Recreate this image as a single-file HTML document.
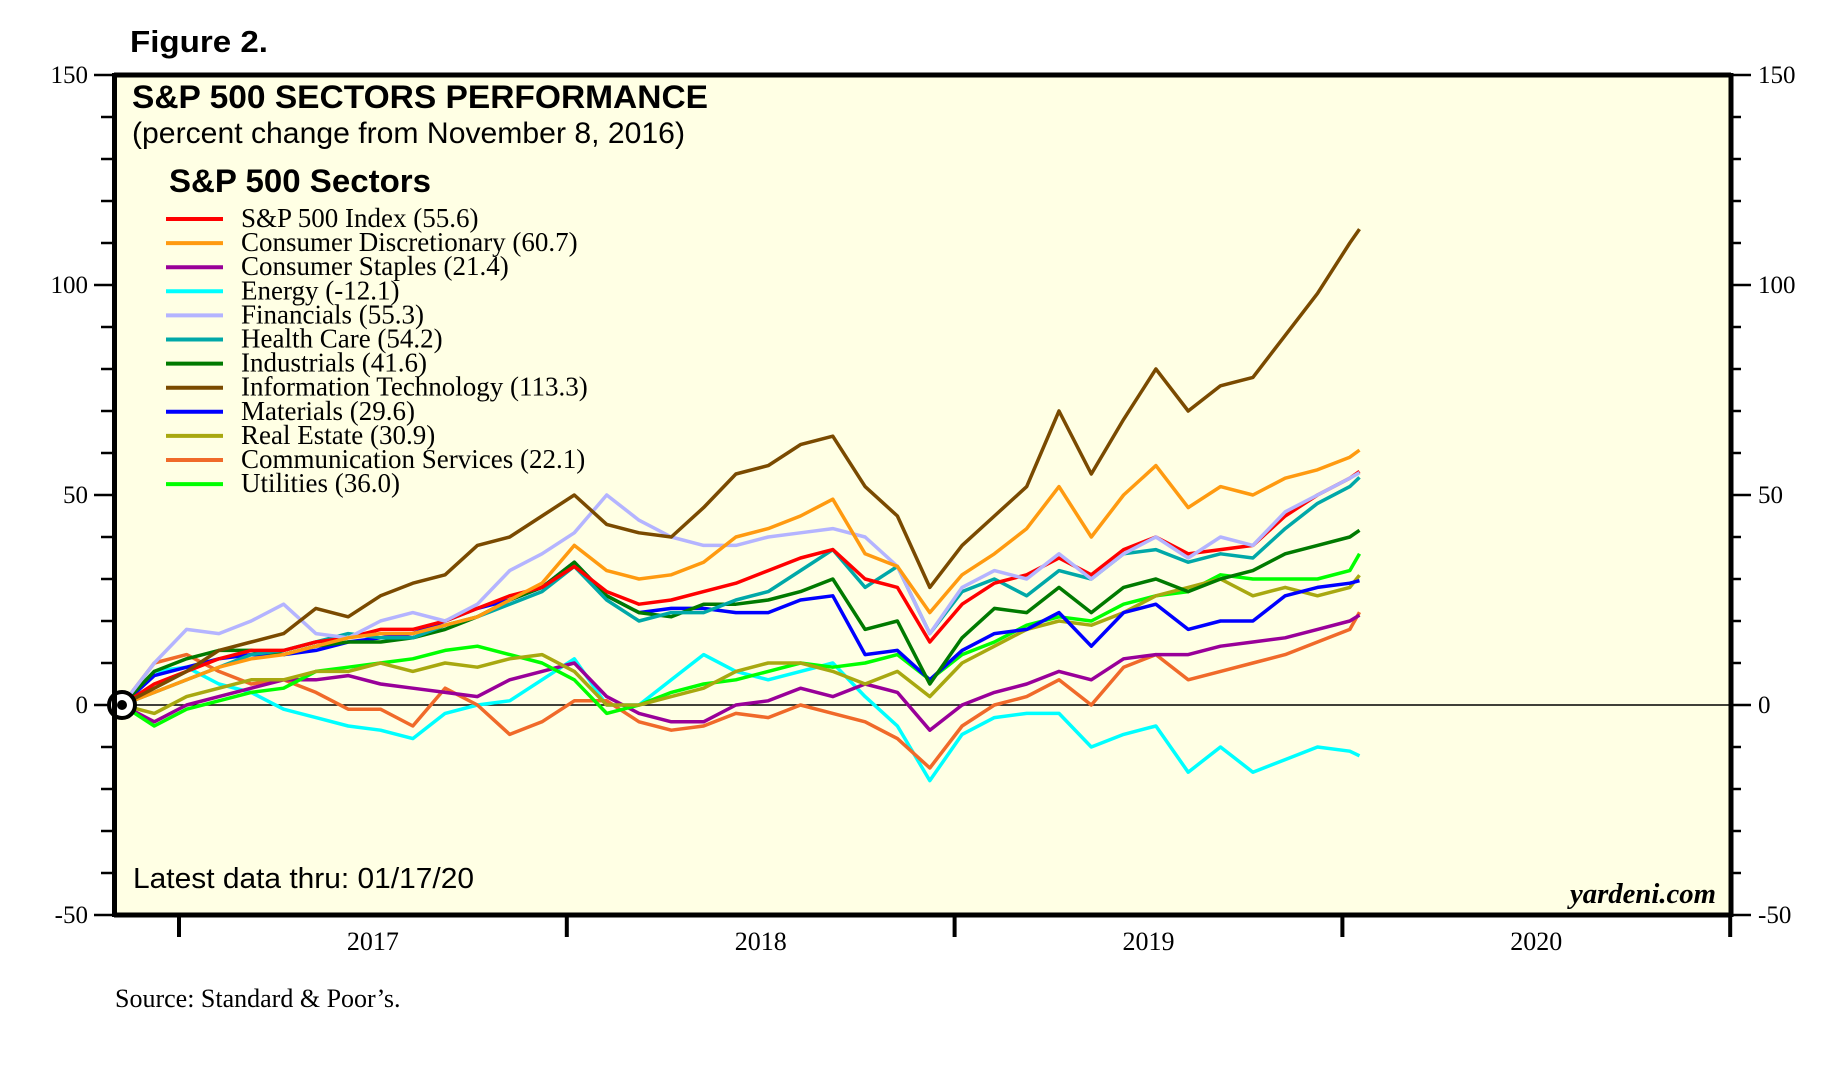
<!DOCTYPE html>
<html><head><meta charset="utf-8"><style>
html,body{margin:0;padding:0;background:#fff;}
svg{display:block;}
</style></head><body>
<svg id="chart" width="1827" height="1086" viewBox="0 0 1827 1086" xmlns="http://www.w3.org/2000/svg">
<rect x="114" y="75" width="1617" height="840" fill="#FFFFE4"/>
<g id="axes"></g>
<g id="series"></g>
<line x1="114" y1="75" x2="1731" y2="75" stroke="#000" stroke-width="5"/>
<line x1="114" y1="915" x2="1731" y2="915" stroke="#000" stroke-width="5"/>
<line x1="114.5" y1="73" x2="114.5" y2="917" stroke="#000" stroke-width="5"/>
<line x1="1731" y1="73" x2="1731" y2="917" stroke="#000" stroke-width="5"/>
<text x="130" y="52" font-family="Liberation Sans, sans-serif" font-weight="bold" font-size="31" textLength="138" lengthAdjust="spacingAndGlyphs">Figure 2.</text>
<text x="132" y="108" font-family="Liberation Sans, sans-serif" font-weight="bold" font-size="32" textLength="576" lengthAdjust="spacingAndGlyphs">S&amp;P 500 SECTORS PERFORMANCE</text>
<text x="132" y="143" font-family="Liberation Sans, sans-serif" font-size="30" textLength="553" lengthAdjust="spacingAndGlyphs">(percent change from November 8, 2016)</text>
<text x="169" y="192" font-family="Liberation Sans, sans-serif" font-weight="bold" font-size="32" textLength="262" lengthAdjust="spacingAndGlyphs">S&amp;P 500 Sectors</text>
<g id="legend"></g>
<text x="133" y="888" font-family="Liberation Sans, sans-serif" font-size="29" textLength="341" lengthAdjust="spacingAndGlyphs">Latest data thru: 01/17/20</text>
<text x="1716" y="903" text-anchor="end" font-family="Liberation Serif, serif" font-weight="bold" font-style="italic" font-size="28" textLength="146" lengthAdjust="spacingAndGlyphs">yardeni.com</text>
<text x="115" y="1007" font-family="Liberation Serif, serif" font-size="26">Source: Standard &amp; Poor’s.</text>
</svg>
<script>
const months = [0,1,2,3,4,5,6,7,8,9,10,11,12,13,14,15,16,17,18,19,20,21,22,23,24,25,26,27,28,29,30,31,32,33,34,35,36,37,38,38.3];
const sp500 = [0,5,8,11,13,13,15,16,18,18,20,23,26,28,33,27,24,25,27,29,32,35,37,30,28,15,24,29,31,35,31,37,40,36,37,38,45,50,54,55.6];
const consDisc = [0,3,6,9,11,12,14,16,17,17,19,21,25,29,38,32,30,31,34,40,42,45,49,36,33,22,31,36,42,52,40,50,57,47,52,50,54,56,59,60.7];
const consStaples = [0,-4,0,2,4,6,6,7,5,4,3,2,6,8,10,2,-2,-4,-4,0,1,4,2,5,3,-6,0,3,5,8,6,11,12,12,14,15,16,18,20,21.4];
const energy = [0,8,9,5,3,-1,-3,-5,-6,-8,-2,0,1,6,11,0,0,6,12,8,6,8,10,2,-5,-18,-7,-3,-2,-2,-10,-7,-5,-16,-10,-16,-13,-10,-11,-12.1];
const financials = [0,10,18,17,20,24,17,16,20,22,20,24,32,36,41,50,44,40,38,38,40,41,42,40,33,17,28,32,30,36,30,36,40,35,40,38,46,50,54,55.3];
const healthCare = [0,3,6,9,12,13,15,17,16,16,19,21,24,27,33,25,20,22,22,25,27,32,37,28,33,17,27,30,26,32,30,36,37,34,36,35,42,48,52,54.2];
const industrials = [0,8,11,13,13,12,14,15,15,16,18,21,25,28,34,26,22,21,24,24,25,27,30,18,20,5,16,23,22,28,22,28,30,27,30,32,36,38,40,41.6];
const infoTech = [0,4,8,13,15,17,23,21,26,29,31,38,40,45,50,43,41,40,47,55,57,62,64,52,45,28,38,45,52,70,55,68,80,70,76,78,88,98,110,113.3];
const materials = [0,7,9,11,12,12,13,15,16,17,20,23,25,28,34,26,22,23,23,22,22,25,26,12,13,6,13,17,18,22,14,22,24,18,20,20,26,28,29,29.6];
const realEstate = [0,-2,2,4,6,6,8,8,10,8,10,9,11,12,8,0,0,2,4,8,10,10,8,5,8,2,10,14,18,20,19,22,26,28,30,26,28,26,28,30.9];
const commServices = [0,10,12,8,5,6,3,-1,-1,-5,4,0,-7,-4,1,1,-4,-6,-5,-2,-3,0,-2,-4,-8,-15,-5,0,2,6,0,9,12,6,8,10,12,15,18,22.1];
const utilities = [0,-5,-1,1,3,4,8,9,10,11,13,14,12,10,6,-2,0,3,5,6,8,10,9,10,12,6,12,15,19,21,20,24,26,27,31,30,30,30,32,36];
const legendLabels = ["S&P 500 Index (55.6)","Consumer Discretionary (60.7)","Consumer Staples (21.4)","Energy (-12.1)","Financials (55.3)","Health Care (54.2)","Industrials (41.6)","Information Technology (113.3)","Materials (29.6)","Real Estate (30.9)","Communication Services (22.1)","Utilities (36.0)"];
const yTicks = [150,100,50,0,-50];
const years = ["2017","2018","2019","2020"];

const NS = "http://www.w3.org/2000/svg";
const colors = ["#FF0000","#FF9A10","#990099","#00FFFF","#B4B4FF","#00A8A8","#007A00","#7A4A00","#0000FF","#A8A810","#F06A2A","#00FF00"];
const allSeries = [sp500,consDisc,consStaples,energy,financials,healthCare,industrials,infoTech,materials,realEstate,commServices,utilities];
const names = ["sp500","consumer-discretionary","consumer-staples","energy","financials","health-care","industrials","information-technology","materials","real-estate","communication-services","utilities"];
function xScale(m){ return 122 + m * 32.31; }
function yScale(v){ return 705 - v * 4.2; }
function mk(tag, attrs, parent){ const e=document.createElementNS(NS,tag); for(const k in attrs) e.setAttribute(k,attrs[k]); parent.appendChild(e); return e; }

const axes = document.getElementById("axes");
for(let v=-50; v<=150; v+=10){
  const major = v % 50 === 0;
  const y = yScale(v);
  const tl = mk("line",{x1: major?94:101, x2:114, y1:y, y2:y, stroke:"#000","stroke-width":2.5},axes);
  
  
  const tr = mk("line",{x1:1731, x2: major?1751:1741, y1:y, y2:y, stroke:"#000","stroke-width":2.5},axes);
  
  
}
yTicks.forEach(v=>{
  const y = yScale(v);
  const l = mk("text",{x:88,y:y+8,"text-anchor":"end","font-family":"Liberation Serif, serif","font-size":25},axes);
  l.textContent = v;
  
  
  const r = mk("text",{x:1758,y:y+8,"font-family":"Liberation Serif, serif","font-size":25},axes);
  r.textContent = v;
  
  
});
const zl = mk("line",{x1:114,x2:1731,y1:yScale(0),y2:yScale(0),stroke:"#000","stroke-width":1.5},axes);


for(let i=0;i<=4;i++){
  const x = 179 + i*387.8;
  const t = mk("line",{x1:x,x2:x,y1:915,y2:937,stroke:"#000","stroke-width":4},axes);
  
  
}
years.forEach((yr,i)=>{
  const t = mk("text",{x:179 + (i+0.5)*387.8, y:950, "text-anchor":"middle","font-family":"Liberation Serif, serif","font-size":26},axes);
  t.textContent = yr;
  
  
});

const sg = document.getElementById("series");
const order = [3,10,2,11,9,8,6,5,0,4,1,7];
order.forEach(i=>{
  const d = allSeries[i].map((v,k)=>(k?"L":"M")+xScale(months[k]).toFixed(1)+","+yScale(v).toFixed(1)).join(" ");
  const p = mk("path",{d:d,fill:"none",stroke:colors[i],"stroke-width":3.5,"stroke-linejoin":"round"},sg);
  
  
});
const c1 = mk("circle",{cx:xScale(0),cy:yScale(0),r:13,fill:"#fff",stroke:"#000","stroke-width":4},sg);


const c2 = mk("circle",{cx:xScale(0),cy:yScale(0),r:5,fill:"#000"},sg);



const lg = document.getElementById("legend");
legendLabels.forEach((lab,i)=>{
  const y = 219 + i*24.1;
  const ln = mk("line",{x1:166,x2:223,y1:y,y2:y,stroke:colors[i],"stroke-width":4},lg);
  
  
  const t = mk("text",{x:241,y:y+8,"font-family":"Liberation Serif, serif","font-size":27},lg);
  t.textContent = lab;
  
  
});
</script>
</body></html>
